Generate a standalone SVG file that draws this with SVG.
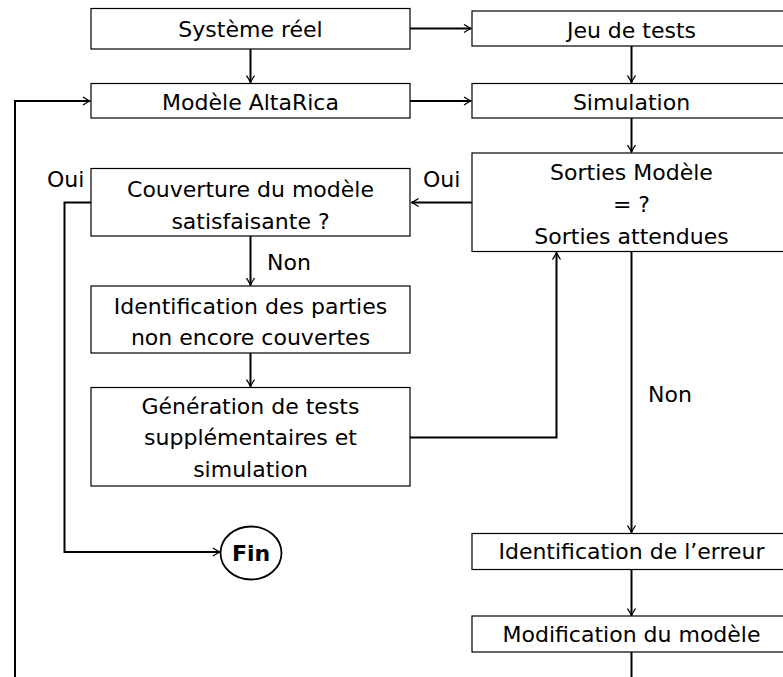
<svg xmlns="http://www.w3.org/2000/svg" width="783" height="677" viewBox="0 0 783 677">
<style>
.box{fill:#fff;stroke:#000;stroke-width:1.2}
.t{font-family:"DejaVu Sans",sans-serif;font-size:22px;fill:#000;text-anchor:middle}
.l{font-family:"DejaVu Sans",sans-serif;font-size:22px;fill:#000}
.c{fill:none;stroke:#000;stroke-width:2}
.b{font-family:"DejaVu Sans",sans-serif;font-size:22px;font-weight:bold;fill:#000;text-anchor:middle}
</style>
<defs>
<marker id="a" viewBox="-8 -5 9 10" refX="0" refY="0" markerWidth="9" markerHeight="10" markerUnits="userSpaceOnUse" orient="auto">
<path d="M-7,-4 Q-2.5,-1 0,0 Q-2.5,1 -7,4" fill="none" stroke="#000" stroke-width="1.3"/>
</marker>
</defs>
<rect width="783" height="677" fill="#fff"/>
<g id="connectors">
<path class="c" d="M410,28.5 H471" marker-end="url(#a)"/>
<path class="c" d="M250.5,49 V82.5" marker-end="url(#a)"/>
<path class="c" d="M631.5,46 V82.5" marker-end="url(#a)"/>
<path class="c" d="M410,101 H471" marker-end="url(#a)"/>
<path class="c" d="M15,690 V101 H90" marker-end="url(#a)"/>
<path class="c" d="M631.5,118 V152" marker-end="url(#a)"/>
<path class="c" d="M472,202.5 H411.5" marker-end="url(#a)"/>
<path class="c" d="M91,202.5 H64.5 V552 H220" marker-end="url(#a)"/>
<path class="c" d="M250.5,236 V285" marker-end="url(#a)"/>
<path class="c" d="M250.5,353 V386.5" marker-end="url(#a)"/>
<path class="c" d="M410,437.5 H556.5 V252.5" marker-end="url(#a)"/>
<path class="c" d="M631.5,251.5 V532.5" marker-end="url(#a)"/>
<path class="c" d="M631.5,569.5 V615.5" marker-end="url(#a)"/>
<path class="c" d="M631.5,652 V690"/>
<text class="l" x="47" y="186.5">Oui</text>
<text class="l" x="423" y="186.5">Oui</text>
<text class="l" x="267" y="270">Non</text>
<text class="l" x="648" y="401.5">Non</text>
</g>
<g id="n1"><rect class="box" x="91" y="8.5" width="319" height="40.5"/><text class="t" x="250.5" y="36.5">Système réel</text></g>
<g id="n2"><rect class="box" x="472" y="11" width="319" height="35"/><text class="t" x="631.5" y="37.5">Jeu de tests</text></g>
<g id="n3"><rect class="box" x="91" y="83.5" width="319" height="34.5"/><text class="t" x="250.5" y="109.5">Modèle AltaRica</text></g>
<g id="n4"><rect class="box" x="472" y="83.5" width="319" height="34.5"/><text class="t" x="631.5" y="109.5">Simulation</text></g>
<g id="n5"><rect class="box" x="472" y="153" width="319" height="98.5"/><text class="t" x="631.5" y="180">Sorties Modèle</text><text class="t" x="631.5" y="212">= ?</text><text class="t" x="631.5" y="243.5">Sorties attendues</text></g>
<g id="n6"><rect class="box" x="91" y="168.5" width="319" height="67.5"/><text class="t" x="250.5" y="196.5">Couverture du modèle</text><text class="t" x="250.5" y="228.5">satisfaisante ?</text></g>
<g id="n7"><rect class="box" x="91" y="286" width="319" height="67"/><text class="t" x="250.5" y="313.5">Identification des parties</text><text class="t" x="250.5" y="345">non encore couvertes</text></g>
<g id="n8"><rect class="box" x="91" y="387.5" width="319" height="98.5"/><text class="t" x="250.5" y="413.5">Génération de tests</text><text class="t" x="250.5" y="445">supplémentaires et</text><text class="t" x="250.5" y="476.5">simulation</text></g>
<g id="n9"><ellipse cx="251" cy="553" rx="30.5" ry="26.5" fill="#fff" stroke="#000" stroke-width="1.8"/><text class="b" x="251" y="560.5">Fin</text></g>
<g id="n10"><rect class="box" x="472" y="533.5" width="319" height="36"/><text class="t" x="631.5" y="559">Identification de l’erreur</text></g>
<g id="n11"><rect class="box" x="472" y="616" width="319" height="36"/><text class="t" x="631.5" y="641.5">Modification du modèle</text></g>
</svg>
